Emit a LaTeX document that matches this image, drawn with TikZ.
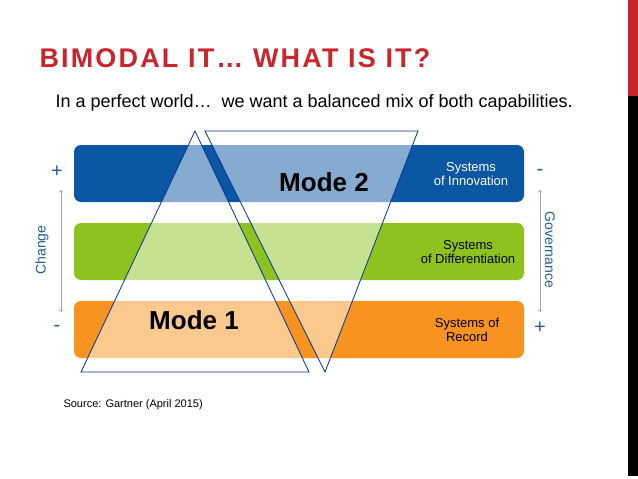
\documentclass[tikz,border=0pt]{standalone}
\usepackage{fontspec}
\setmainfont{Liberation Sans}
\begin{document}
\begin{tikzpicture}[x=1pt,y=-1pt,
 band/.style={rounded corners=7pt},
 tri/.style={draw=blue!50!black!80!cyan,line width=0.8pt,fill=white,fill opacity=0.5},
 lbl/.style={align=center,font=\fontsize{13}{14}\selectfont},
 sign/.style={text=sgn,font=\fontsize{20}{20}\selectfont}]
\definecolor{tblue}{HTML}{0B57A4}
\definecolor{tgreen}{HTML}{8EC31F}
\definecolor{torange}{HTML}{F7931E}
\definecolor{ttitle}{HTML}{C9252C}
\definecolor{sgn}{HTML}{1F5C99}
\useasboundingbox (0,0) rectangle (638,479);
\fill[ttitle] (628,0) rectangle (638,96);
\fill[black] (628,96) rectangle (638,476);
\node[anchor=west,text=ttitle,font=\bfseries\fontsize{27}{27}\selectfont\addfontfeatures{LetterSpace=8}] (title) at (36,58) {BIMODAL IT… WHAT IS IT?};
\node[anchor=west,font=\fontsize{18}{18}\selectfont] (sub) at (52,103) {In a perfect world…\ \ we want a balanced mix of both capabilities.};
\fill[band,tblue] (74,145) rectangle (524,202);
\fill[band,tgreen] (74,223) rectangle (524,280);
\fill[band,torange] (74,301) rectangle (524,358);
\draw[tri] (195,131) -- (309,372) -- (81,372) -- cycle;
\draw[tri] (205,131) -- (418,131) -- (325,372) -- cycle;
\node[font=\bfseries\fontsize{26}{26}\selectfont] (m2) at (324,182) {Mode 2};
\node[font=\bfseries\fontsize{26}{26}\selectfont] (m1) at (194,320) {Mode 1};
\node[lbl,text=white] (s1) at (471,174) {Systems\\of Innovation};
\node[lbl] (s2) at (468,252) {Systems\\of Differentiation};
\node[lbl] (s3) at (467,330) {Systems of\\Record};
\node[sign] (lp) at (57,172) {+};
\node[sign] (lm) at (57,328) {-};
\node[sign] (rm) at (540,172) {-};
\node[sign] (rp) at (540,328) {+};
\draw[<->,gray!70,line width=0.8pt] (61,190) -- (61,312);
\draw[<->,gray!70,line width=0.8pt] (540,190) -- (540,312);
\node[rotate=90,text=sgn,font=\fontsize{14}{14}\selectfont] (ch) at (42,250) {Change};
\node[rotate=-90,text=sgn,font=\fontsize{14}{14}\selectfont] (gov) at (550,250) {Governance};
\node[anchor=west,font=\fontsize{11}{12}\selectfont] (src) at (60,405) {Source: Gartner (April 2015)};
\end{tikzpicture}
\end{document}
